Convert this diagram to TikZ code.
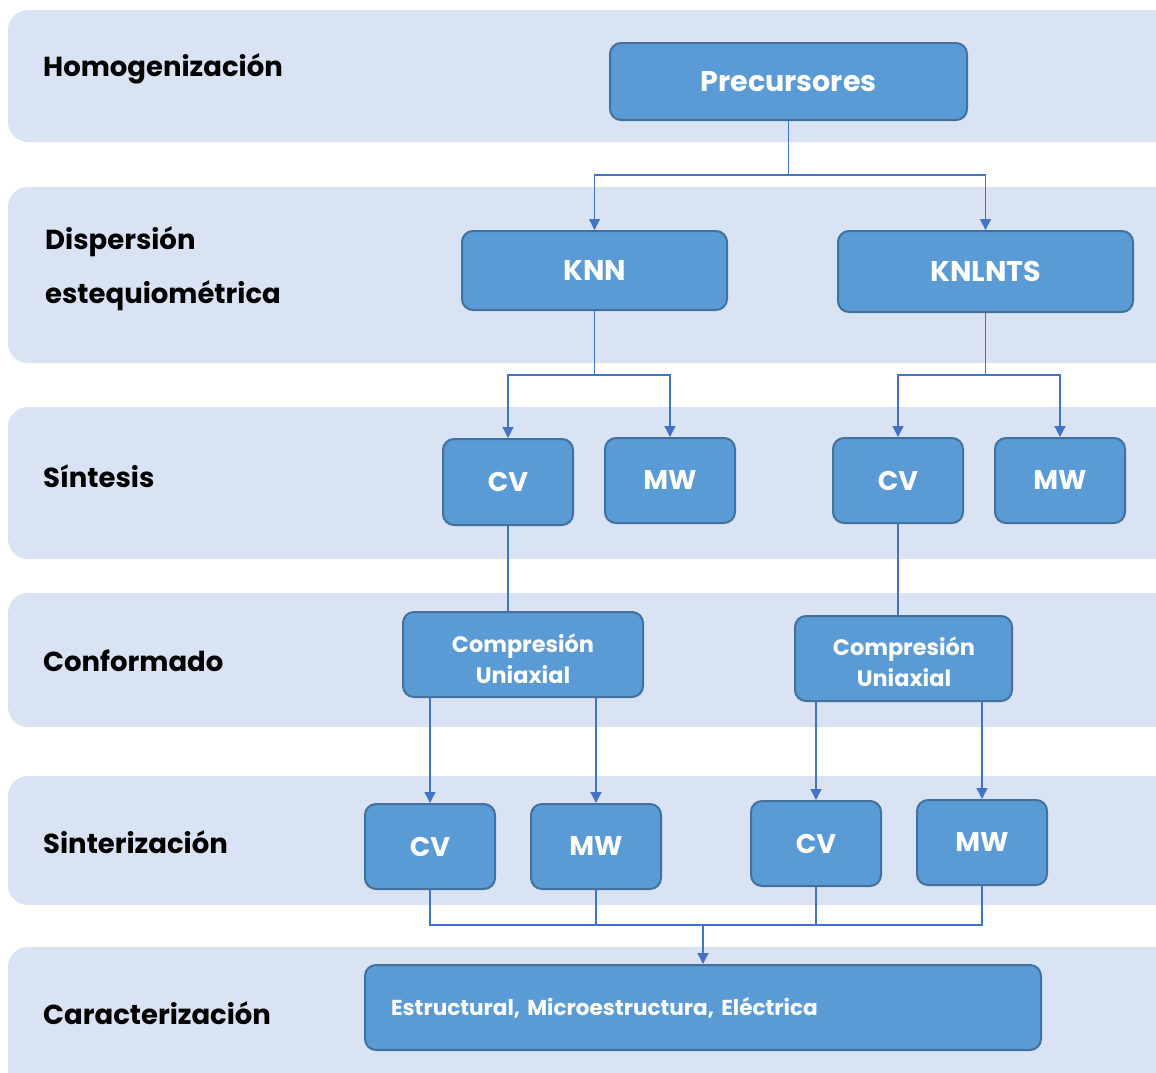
\documentclass[tikz,border=0pt]{standalone}
\usepackage{fontspec}
\setmainfont{Poppins}
\usetikzlibrary{arrows.meta}
\definecolor{bandfill}{HTML}{DAE3F3}
\definecolor{boxfill}{HTML}{5B9BD5}
\definecolor{boxedge}{HTML}{41719C}
\definecolor{linkblue}{HTML}{4472C4}
\tikzset{
  band/.style={fill=bandfill, draw=none, rounded corners=20pt},
  stagelabel/.style={anchor=west, inner sep=0pt, font=\bfseries\fontsize{27.5}{32}\selectfont, text=black},
  procbox/.style={draw=boxedge, line width=2pt, fill=boxfill, rounded corners=11pt,
    text=white, font=\bfseries\fontsize{27}{32}\selectfont, inner sep=0pt},
  bigbox/.style={procbox, font=\bfseries\fontsize{28.5}{33}\selectfont},
  boxtext/.style={text=white, inner sep=0pt, align=center, font=\bfseries\fontsize{22.4}{31}\selectfont},
  link/.style={draw=linkblue, line width=1.3pt},
  arrowlink/.style={link, -{Triangle[width=11pt,length=11pt]}},
}
\begin{document}
\begin{tikzpicture}[x=1pt,y=-1pt]
\useasboundingbox (0,0) rectangle (1156,1072);
\clip (0,0) rectangle (1156,1072);

% stage bands
\fill[band] (8,10)  rectangle (1176,142);
\fill[band] (8,187) rectangle (1176,363);
\fill[band] (8,407) rectangle (1176,559);
\fill[band] (8,593) rectangle (1176,727);
\fill[band] (8,776) rectangle (1176,905);
\fill[band] (8,947) rectangle (1176,1092);

% stage names
\node[stagelabel] (l1) at (43,69) {Homogenización};
\node[stagelabel] (l2a) at (45,242) {Dispersión};
\node[stagelabel] (l2b) at (45,296) {estequiométrica};
\node[stagelabel] (l3) at (43,476) {Síntesis};
\node[stagelabel] (l4) at (43,661) {Conformado};
\node[stagelabel] (l5) at (43,842) {Sinterización};
\node[stagelabel] (l6) at (43,1013) {Caracterización};

% process boxes
\node[bigbox, minimum width=357pt, minimum height=77pt] (pre) at (788.5,81.5) {Precursores};
\node[bigbox, minimum width=265pt, minimum height=79pt] (knn) at (594.5,270.5) {KNN};
\node[bigbox, minimum width=295pt, minimum height=81pt] (knl) at (985.5,271.5) {KNLNTS};

\node[procbox, minimum width=130pt, minimum height=86pt] (cv1) at (508,482) {CV};
\node[procbox, minimum width=130pt, minimum height=85pt] (mw1) at (670,480.5) {MW};
\node[procbox, minimum width=130pt, minimum height=85pt] (cv2) at (898,480.5) {CV};
\node[procbox, minimum width=130pt, minimum height=85pt] (mw2) at (1060,480.5) {MW};

\node[procbox, minimum width=240pt, minimum height=85pt] (cu1) at (523,654.5) {};
\node[boxtext] (cu1t) at (523,659) {Compresión\\Uniaxial};
\node[procbox, minimum width=217pt, minimum height=85pt] (cu2) at (903.5,658.5) {};
\node[boxtext] (cu2t) at (904,662) {Compresión\\Uniaxial};

\node[procbox, minimum width=130pt, minimum height=85pt] (cv3) at (430,846.5) {CV};
\node[procbox, minimum width=130pt, minimum height=85pt] (mw3) at (596,846.5) {MW};
\node[procbox, minimum width=130pt, minimum height=85pt] (cv4) at (816,843.5) {CV};
\node[procbox, minimum width=130pt, minimum height=85pt] (mw4) at (982,842.5) {MW};

\node[procbox, minimum width=676pt, minimum height=85pt, text width=624pt, align=left,
      font=\bfseries\fontsize{21.6}{26}\selectfont] (est) at (703,1007.5) {Estructural, Microestructura, Eléctrica};

% connectors
\coordinate (s1) at (788.5,175);
\draw[link] (pre.south) -- (s1);
\draw[arrowlink] (s1) -| (knn.north);
\draw[arrowlink] (s1) -| (knl.north);

\coordinate (s2) at (594.5,375);
\draw[link] (knn.south) -- (s2);
\draw[arrowlink] (s2) -| (cv1.north);
\draw[arrowlink] (s2) -| (mw1.north);

\coordinate (s3) at (985.5,375);
\draw[link] (knl.south) -- (s3);
\draw[arrowlink] (s3) -| (cv2.north);
\draw[arrowlink] (s3) -| (mw2.north);

\draw[link] (cv1.south) -- (cv1.south |- cu1.north);
\draw[link] (cv2.south) -- (cv2.south |- cu2.north);

\draw[arrowlink] (cv3.north |- cu1.south) -- (cv3.north);
\draw[arrowlink] (mw3.north |- cu1.south) -- (mw3.north);
\draw[arrowlink] (cv4.north |- cu2.south) -- (cv4.north);
\draw[arrowlink] (mw4.north |- cu2.south) -- (mw4.north);

\coordinate (s4) at (703,925);
\draw[link] (cv3.south) |- (s4);
\draw[link] (mw3.south) |- (s4);
\draw[link] (cv4.south) |- (s4);
\draw[link] (mw4.south) |- (s4);
\draw[arrowlink] (s4) -- (est.north);
\end{tikzpicture}
\end{document}
